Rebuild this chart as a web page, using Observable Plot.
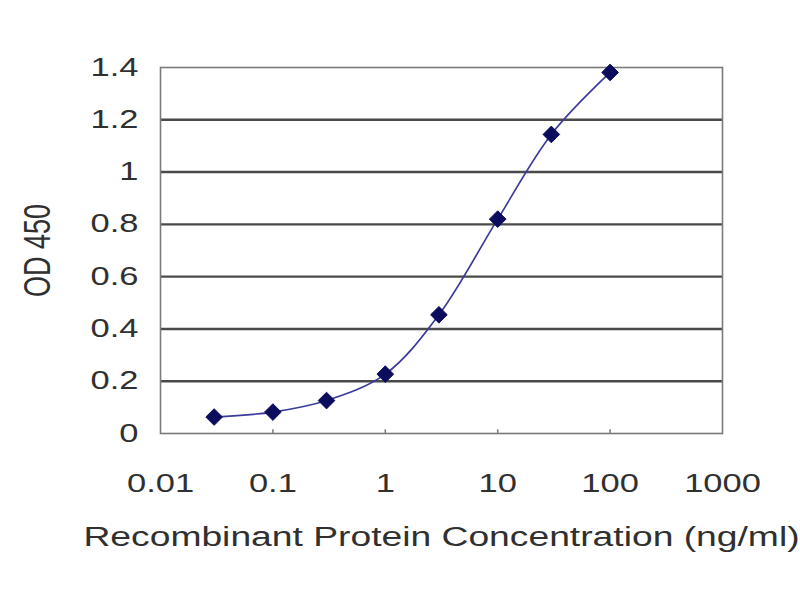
<!DOCTYPE html>
<html>
<head>
<meta charset="utf-8">
<script src="https://cdn.jsdelivr.net/npm/d3@7"></script>
<script src="https://cdn.jsdelivr.net/npm/@observablehq/plot@0.6"></script>
<style>
  html, body { margin: 0; padding: 0; background: #fff; }
  #chart { width: 800px; height: 600px; }
  svg { font-family: "Liberation Sans", Arial, sans-serif; }
</style>
</head>
<body>
<div id="chart"></div>
<script>
const concentrations = [0.03, 0.1, 0.3, 1, 3, 10, 30, 100];
const odValues = [0.063, 0.082, 0.126, 0.227, 0.454, 0.82, 1.144, 1.381];
const xTicks = [0.01, 0.1, 1, 10, 100, 1000];
const xTickLabels = ["0.01", "0.1", "1", "10", "100", "1000"];
const yTicks = [0, 0.2, 0.4, 0.6, 0.8, 1, 1.2, 1.4];
const yTickLabels = ["0", "0.2", "0.4", "0.6", "0.8", "1", "1.2", "1.4"];
const xTitle = "Recombinant Protein Concentration (ng/ml)";
const yTitle = "OD 450";

const data = concentrations.map((c, i) => ({x: c, y: odValues[i]}));
const textColor = "#303030";

const chart = Plot.plot({
  width: 800,
  height: 600,
  marginLeft: 160,
  marginRight: 78,
  marginTop: 67,
  marginBottom: 167,
  style: {fontFamily: "'Liberation Sans', Arial, sans-serif", background: "#fff"},
  x: {type: "log", domain: [0.01, 1000]},
  y: {domain: [0, 1.4]},
  marks: [
    Plot.ruleY(yTicks.slice(1, -1), {stroke: "#4a4a4a", strokeWidth: 2.4}),
    Plot.frame({stroke: "#7a7a7a", strokeWidth: 1.6}),
    Plot.ruleX(xTicks.slice(1, -1), {x: d => d, y1: 0, y2: 0.014, stroke: "#7a7a7a", strokeWidth: 1.5}),
    Plot.axisX({
      ticks: xTicks,
      tickFormat: (d) => xTickLabels[xTicks.indexOf(d)],
      tickSize: 0,
      tickPadding: 41,
      fontSize: 25,
      fill: textColor,
      label: null
    }),
    Plot.axisY({
      ticks: yTicks,
      tickFormat: (d) => yTickLabels[yTicks.indexOf(d)],
      tickSize: 0,
      tickPadding: 22,
      fontSize: 25,
      fill: textColor,
      label: null
    }),
    Plot.text([xTitle], {frameAnchor: "bottom", dy: 112, fontSize: 27, fill: textColor}),
    Plot.text([yTitle], {frameAnchor: "left", textAnchor: "middle", dx: -123, rotate: -90, fontSize: 27, fill: textColor}),
    Plot.line(data, {x: "x", y: "y", curve: "catmull-rom", stroke: "#3b3b9c", strokeWidth: 1.7}),
    Plot.dot(data, {x: "x", y: "y", symbol: "diamond2", r: 7.5, fill: "#0c0c5e", stroke: "#0c0c5e", strokeWidth: 1, strokeLinejoin: "round"})
  ]
});
document.getElementById("chart").appendChild(chart);

// The reference image is horizontally stretched; widen the glyphs to match.
const STRETCH = 1.38;
chart.querySelectorAll("text").forEach(t => {
  const bb = t.getBBox();
  const anchor = getComputedStyle(t).textAnchor;
  const isRotated = (t.getAttribute("transform") || "").includes("rotate");
  const prev = t.getAttribute("transform") || "";
  if (isRotated) {
    const cy = bb.y + bb.height / 2;
    t.setAttribute("transform", `${prev} translate(0,${cy}) scale(1,${STRETCH}) translate(0,${-cy})`);
  } else {
    let ox = bb.x + bb.width / 2;
    if (anchor === "end") ox = bb.x + bb.width;
    else if (anchor === "start") ox = bb.x;
    t.setAttribute("transform", `${prev} translate(${ox},0) scale(${STRETCH},1) translate(${-ox},0)`);
  }
});
</script>
</body>
</html>
